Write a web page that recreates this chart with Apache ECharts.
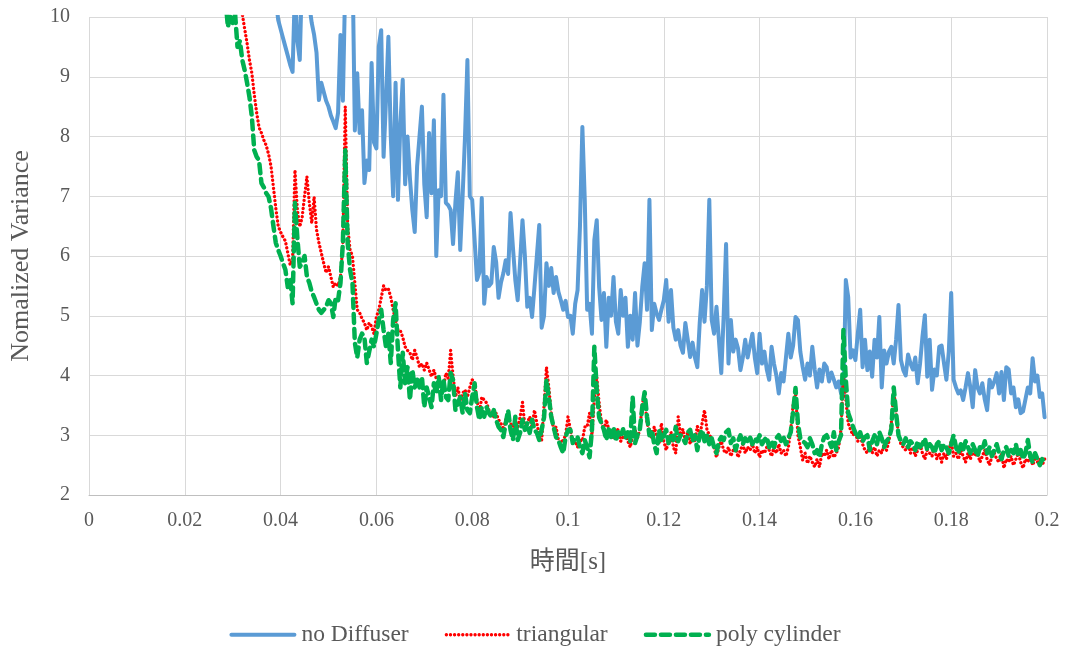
<!DOCTYPE html>
<html>
<head>
<meta charset="utf-8">
<title>Normalized Variance</title>
<script src="https://cdn.jsdelivr.net/npm/echarts@6/dist/echarts.min.js"></script>
<style>
  html, body { margin: 0; padding: 0; background: #fff; }
  #chart { width: 1070px; height: 646px; }
</style>
</head>
<body>
<div id="chart"></div>
<script>
// sampling of the traces (s)
var dt = 0.0005;
var startBlue = 0.039;
var startRedGreen = 0.028;

var seriesNames = ['no Diffuser', 'triangular', 'poly cylinder'];

// no Diffuser, from 0.039 s
var noDiffuser = [
  10.3,9.95,9.8,9.65,9.5,9.35,9.2,9.08,10.5,9.6,
  9.28,10.8,11,10.5,10.2,9.9,9.7,9.4,8.61,8.9,
  8.75,8.6,8.5,8.35,8.25,8.14,8.4,9.7,8.6,10.6,
  11,10.8,11,8.1,9.06,8.06,8.44,7.22,7.6,7.44,
  9.23,7.9,7.8,9.5,9.78,7.66,8.6,9.67,8.0,7.0,
  8.9,6.94,8.2,8.95,7.2,8.0,7.3,6.77,6.4,7.5,
  8.0,8.5,7.2,6.65,8.06,7.05,8.27,6.0,7.1,7.0,
  8.7,6.89,6.85,6.77,6.2,6.9,7.4,6.1,7.0,8.0,
  9.28,7.0,6.94,6.27,5.6,5.72,6.97,5.2,5.65,5.5,
  5.55,6.15,5.9,5.3,5.55,5.71,5.93,5.7,6.72,6.15,
  5.6,5.26,5.9,6.6,6.0,5.15,5.3,4.98,5.48,6.0,
  6.52,4.8,5.0,5.88,5.5,5.8,5.38,5.65,5.4,5.26,
  5.1,5.25,4.98,5.0,4.7,5.2,5.43,6.5,8.16,6.94,
  5.1,5.2,4.7,6.27,6.6,5.48,4.93,5.38,4.48,5.3,
  5.0,5.65,4.9,4.7,5.43,5.0,5.3,4.48,5.0,4.6,
  5.38,4.5,4.9,5.48,5.88,5.1,6.94,4.76,5.2,5.04,
  4.93,5.1,5.26,5.6,4.9,5.43,4.8,4.6,4.76,4.5,
  4.38,4.88,4.6,4.31,4.55,4.3,4.14,4.88,5.43,4.9,
  5.5,6.94,4.93,4.7,5.15,4.6,4.04,5.0,6.2,4.2,
  4.93,4.4,4.6,4.45,4.09,4.3,4.6,4.3,4.5,4.7,
  4.3,4.04,4.7,4.2,4.4,4.1,3.93,4.48,4.2,4.0,
  3.7,4.04,3.9,4.3,4.7,4.3,4.5,4.98,4.93,4.4,
  4.14,3.93,4.2,4.0,4.48,4.1,3.8,4.1,3.9,4.2,
  4.14,3.9,4.05,3.93,3.8,3.9,3.7,3.64,5.6,5.31,
  4.3,4.42,4.26,4.7,5.1,4.14,4.6,4.09,4.4,3.98,
  4.6,4.3,4.98,3.8,4.42,4.2,4.4,4.48,4.2,4.6,
  5.18,4.26,4.09,4.0,4.35,4.2,4.1,4.3,3.87,4.2,
  4.65,5.01,3.98,4.6,3.76,4.1,4.0,4.48,4.5,4.2,
  3.93,4.4,5.38,3.93,3.8,3.7,3.75,3.59,3.8,4.04,
  3.8,3.47,4.09,3.8,3.7,3.87,3.6,3.42,3.93,3.8,
  3.9,4.04,3.7,4.06,3.59,4.14,4.1,3.7,3.8,3.47,
  3.6,3.37,3.4,3.6,3.8,3.7,4.29,3.9,4.0,3.64,
  3.7,3.3
];

// triangular, from 0.028 s
var triangular = [
  11.5,11.3,11.1,10.9,10.7,10.5,10.35,10.2,10.05,9.8,
  9.56,9.28,9.06,8.7,8.4,8.15,8.06,7.94,7.85,7.7,
  7.5,7.15,6.8,6.5,6.4,6.32,6.25,6.05,5.85,5.93,
  7.44,6.77,6.49,6.65,7.0,7.33,6.89,6.55,6.99,6.44,
  6.22,6.05,5.88,5.72,5.82,5.65,5.48,5.55,5.5,5.65,
  6.22,8.5,6.5,6.1,6.0,5.55,5.1,5.05,4.95,4.88,
  4.76,4.88,4.82,4.7,4.98,5.1,5.3,5.5,5.43,5.45,
  5.31,5.1,4.93,4.76,4.75,4.64,4.48,4.42,4.38,4.26,
  4.42,4.3,4.14,4.2,4.09,4.21,4.1,3.98,4.09,3.95,
  3.93,3.87,3.8,4.04,3.95,4.42,4.0,3.64,3.8,3.59,
  3.7,3.76,3.64,3.8,3.93,3.87,3.59,3.37,3.64,3.59,
  3.54,3.42,3.37,3.31,3.37,3.26,3.2,3.09,3.26,3.31,
  3.2,3.14,3.2,3.14,3.3,3.55,3.14,3.2,3.31,3.14,
  3.42,3.2,3.0,2.92,3.5,4.14,3.8,3.37,3.09,3.14,
  2.92,2.87,2.92,3.0,3.31,3.09,2.87,2.9,2.8,2.92,
  2.9,3.14,3.14,3.37,3.0,3.6,3.98,3.54,3.2,3.09,
  3.26,3.1,3.04,2.95,3.1,3.09,2.9,2.97,3.05,2.9,
  2.8,2.97,3.09,2.95,3.1,3.54,3.64,3.2,3.09,2.95,
  3.14,3.0,2.85,3.2,2.9,2.75,2.9,3.05,2.8,2.7,
  3.31,3.0,3.1,2.9,3.05,2.85,3.0,2.9,3.15,3.0,
  3.2,3.42,3.1,3.0,2.95,2.8,2.63,2.8,2.9,2.75,
  2.7,2.8,2.65,2.75,2.8,2.63,2.75,2.85,2.7,2.8,
  2.75,2.85,2.7,2.8,2.63,2.75,2.7,2.8,2.75,2.65,
  2.8,2.7,2.85,2.7,2.75,2.65,2.8,3.09,3.5,3.76,
  3.0,2.8,2.58,2.7,2.53,2.65,2.55,2.47,2.6,2.47,
  2.7,2.65,2.75,2.6,2.75,2.63,2.7,2.8,3.1,4.04,
  3.6,3.2,3.09,3.0,3.05,2.9,3.0,2.85,2.75,2.7,
  2.85,2.7,2.8,2.65,2.75,2.7,2.85,2.75,2.9,3.2,
  3.76,3.37,3.0,2.85,2.8,2.75,2.85,2.7,2.8,2.65,
  2.75,2.85,2.7,2.6,2.75,2.7,2.65,2.8,2.6,2.7,
  2.55,2.7,2.6,2.75,2.9,2.65,2.7,2.6,2.75,2.65,
  2.55,2.7,2.6,2.75,2.65,2.7,2.55,2.65,2.75,2.6,
  2.5,2.65,2.7,2.6,2.55,2.7,2.45,2.6,2.55,2.65,
  2.5,2.6,2.7,2.55,2.45,2.6,2.55,2.65,2.5,2.6,
  2.55,2.6,2.5,2.6
];

// poly cylinder, from 0.028 s
var polyCylinder = [
  10.8,10.3,9.83,10.05,9.9,10.05,9.5,9.6,9.28,9.11,
  8.9,8.66,8.33,7.77,7.66,7.6,7.22,7.15,7.05,6.99,
  6.8,6.5,6.22,6.1,6.0,5.88,5.77,5.48,5.6,5.21,
  6.89,6.3,5.82,5.88,6.0,5.65,5.55,5.4,5.31,5.2,
  5.1,5.05,5.1,5.15,5.26,5.21,4.98,5.31,5.26,5.55,
  6.22,7.77,6.22,5.77,5.55,4.55,4.3,4.6,4.7,4.64,
  4.21,4.4,4.6,4.48,4.7,4.93,5.1,4.76,4.48,4.7,
  4.21,4.93,5.21,4.42,3.8,4.38,3.87,4.14,3.59,4.1,
  3.8,3.93,3.8,3.98,3.47,3.8,3.64,3.47,3.87,3.7,
  3.98,3.59,3.93,3.64,3.59,4.04,3.93,3.42,3.54,3.64,
  3.37,3.7,3.42,3.37,3.64,3.87,3.47,3.26,3.47,3.31,
  3.47,3.37,3.31,3.42,3.26,3.14,3.09,2.97,3.2,3.42,
  3.09,2.92,3.31,2.92,3.04,3.26,3.09,3.2,3.04,3.26,
  3.09,3.04,2.92,3.09,3.3,3.93,3.64,3.31,3.14,2.97,
  2.92,2.8,2.7,2.97,3.09,3.09,2.87,2.97,2.97,2.8,
  2.7,2.92,2.8,2.63,3.09,4.48,3.76,3.3,3.2,3.09,
  2.92,3.1,2.97,3.14,2.9,3.05,2.97,3.1,2.95,3.05,
  2.9,3.64,2.87,3.0,3.1,3.47,3.72,3.31,3.0,3.09,
  2.85,2.7,3.09,2.9,3.0,3.09,2.87,3.0,2.92,3.14,
  2.9,3.0,2.95,2.87,3.05,3.09,2.9,3.0,2.75,3.0,
  3.09,2.9,3.0,2.85,2.95,2.8,2.7,2.9,2.97,2.92,
  3.05,3.09,2.87,2.95,2.75,2.9,3.0,2.85,2.95,2.9,
  2.97,2.85,2.95,2.9,3.0,2.85,2.92,2.97,2.8,2.9,
  2.8,2.95,3.0,2.9,2.97,2.85,2.95,3.05,3.4,3.79,
  3.2,2.95,2.9,2.87,2.8,2.95,2.85,2.7,2.75,2.63,
  2.85,2.97,3.0,2.9,2.8,3.05,2.75,2.9,3.0,4.76,
  3.93,3.37,3.26,3.14,3.04,2.95,3.05,2.9,2.97,3.0,
  2.75,2.9,3.0,2.85,3.05,2.95,2.8,2.9,2.95,3.1,
  3.8,3.37,3.0,2.9,2.85,2.95,2.8,2.9,2.85,2.75,
  2.9,2.8,2.85,2.95,2.75,2.85,2.8,2.7,2.85,2.9,
  2.75,2.85,2.8,2.7,2.85,3.0,2.8,2.7,2.85,2.75,
  2.9,2.8,2.7,2.85,2.75,2.65,2.8,2.75,2.9,2.7,
  2.8,2.65,2.75,2.85,2.7,2.6,2.75,2.8,2.65,2.75,
  2.7,2.85,2.65,2.75,2.6,2.7,2.92,2.65,2.55,2.7,
  2.6,2.5,2.6,2.55
];

function toPairs(start, values) {
  return values.map(function (v, i) {
    return [Math.round((start + i * dt) * 10000) / 10000, v];
  });
}

var font = "'Liberation Serif', 'Times New Roman', 'Noto Sans CJK JP', serif";
var textColor = '#595959';

var chart = echarts.init(document.getElementById('chart'), null, { renderer: 'canvas' });

var option = {
  animation: false,
  backgroundColor: '#ffffff',
  textStyle: { fontFamily: font, color: textColor },
  grid: { left: 89, right: 23, top: 17, bottom: 151, containLabel: false },
  legend: {
    top: 618,
    left: 'center',
    itemWidth: 63,
    itemHeight: 14,
    itemGap: 36,
    itemStyle: { opacity: 0 },
    lineStyle: { width: 'inherit' },
    textStyle: { fontFamily: font, fontSize: 23.5, color: textColor, padding: [0, 0, 0, 2] },
    data: seriesNames
  },
  xAxis: {
    type: 'value',
    min: 0,
    max: 0.2,
    interval: 0.02,
    name: '時間[s]',
    nameLocation: 'middle',
    nameGap: 55,
    nameTextStyle: { fontFamily: font, fontSize: 25, color: textColor },
    axisLine: { show: true, lineStyle: { color: '#bfbfbf', width: 1 } },
    axisTick: { show: false },
    axisLabel: {
      fontSize: 20, color: textColor, margin: 16,
      formatter: function (v) { return String(+v.toFixed(2)); }
    },
    splitLine: { show: true, lineStyle: { color: '#d9d9d9', width: 1 } }
  },
  yAxis: {
    type: 'value',
    min: 2,
    max: 10,
    interval: 1,
    name: 'Nomalized Variance',
    nameLocation: 'middle',
    nameGap: 55,
    nameTextStyle: { fontFamily: font, fontSize: 26, color: textColor },
    axisLine: { show: false },
    axisTick: { show: false },
    axisLabel: { fontSize: 20, color: textColor, margin: 19 },
    splitLine: { show: true, lineStyle: { color: '#d9d9d9', width: 1 } }
  },
  series: [
    {
      name: seriesNames[0],
      type: 'line',
      showSymbol: false,
      symbol: 'none',
      clip: true,
      data: toPairs(startBlue, noDiffuser),
      itemStyle: { color: '#5b9bd5' },
      lineStyle: { color: '#5b9bd5', width: 4, join: 'round', cap: 'round' }
    },
    {
      name: seriesNames[1],
      type: 'line',
      showSymbol: false,
      symbol: 'none',
      clip: true,
      data: toPairs(startRedGreen, triangular),
      itemStyle: { color: '#ff0000' },
      lineStyle: { color: '#ff0000', width: 3.3, type: [0.1, 4], cap: 'round', join: 'round' }
    },
    {
      name: seriesNames[2],
      type: 'line',
      showSymbol: false,
      symbol: 'none',
      clip: true,
      data: toPairs(startRedGreen, polyCylinder),
      itemStyle: { color: '#00b050' },
      lineStyle: { color: '#00b050', width: 4.5, type: [9, 6], cap: 'round', join: 'round' }
    }
  ]
};

chart.setOption(option);
</script>
</body>
</html>
